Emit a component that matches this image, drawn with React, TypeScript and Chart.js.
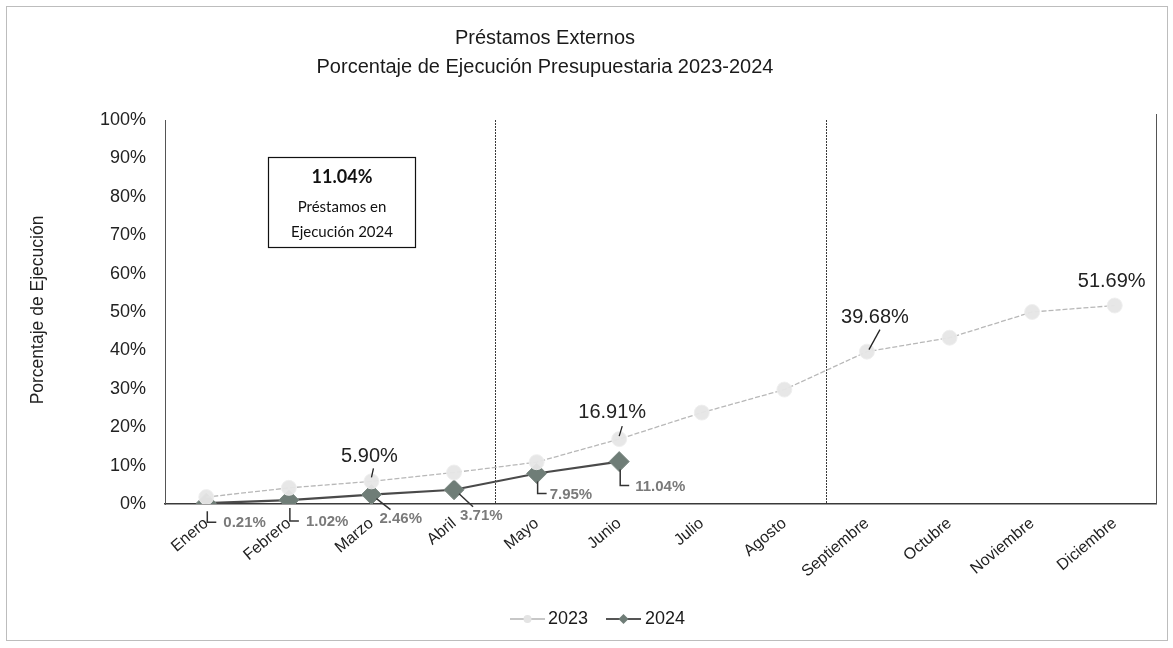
import React, { useEffect, useRef } from "react";
import { Chart, registerables } from "chart.js";

Chart.register(...registerables);

const months = ["Enero", "Febrero", "Marzo", "Abril", "Mayo", "Junio", "Julio", "Agosto", "Septiembre", "Octubre", "Noviembre", "Diciembre"];
const series2023 = [1.8, 4.2, 5.9, 8.2, 10.9, 16.91, 23.8, 29.8, 39.68, 43.3, 50.0, 51.69];
const series2024 = [0.21, 1.02, 2.46, 3.71, 7.95, 11.04];
const labeled2023 = [2, 5, 8, 11];
const dividers = [3.5, 7.5];
const titleLines = ["Préstamos Externos", "Porcentaje de Ejecución Presupuestaria 2023-2024"];
const boxLines = ["11.04%", "Préstamos en", "Ejecución 2024"];
const yAxisTitle = "Porcentaje de Ejecución";
const legendNames = ["2023", "2024"];

// label placement styles (pixel offsets relative to points)
const style2023Labels: Record<number, { dx: number; dy: number; leader: number[] | null }> = {
  2: { dx: -2, dy: -25, leader: [0, -4, 2, -13] },
  5: { dx: -7, dy: -27, leader: [0, -3, 3, -13] },
  8: { dx: 8, dy: -34, leader: [2, -2, 13, -22] },
  11: { dx: -3, dy: -24, leader: null },
};
const style2024Labels = [
  { dx: 17, dy: 20, kind: "L" },
  { dx: 17, dy: 22, kind: "L" },
  { dx: 8, dy: 24, kind: "D" },
  { dx: 6, dy: 26, kind: "D" },
  { dx: 13, dy: 21, kind: "L" },
  { dx: 16, dy: 25, kind: "L" },
];

const fmt = (v: number) => v.toFixed(2) + "%";

const decorPlugin = {
  id: "decor",
  beforeDraw(chart: any) {
    const ctx = chart.ctx;
    ctx.save();
    ctx.fillStyle = "#ffffff";
    ctx.fillRect(0, 0, chart.width, chart.height);
    ctx.strokeStyle = "#bdbdbd";
    ctx.lineWidth = 1;
    ctx.strokeRect(6.5, 6.5, 1161, 634);
    ctx.restore();
  },
  beforeDatasetsDraw(chart: any) {
    const ctx = chart.ctx;
    const { top, bottom, right } = chart.chartArea;
    const x = chart.scales.x;
    ctx.save();
    ctx.strokeStyle = "#3a3a3a";
    ctx.lineWidth = 1;
    ctx.setLineDash([2, 1]);
    dividers.forEach((d) => {
      const px = Math.round(x.getPixelForValue(d)) + 0.5;
      ctx.beginPath();
      ctx.moveTo(px, top);
      ctx.lineTo(px, bottom);
      ctx.stroke();
    });
    ctx.setLineDash([]);
    ctx.strokeStyle = "#555";
    ctx.beginPath();
    ctx.moveTo(Math.round(right) + 0.5, top - 6);
    ctx.lineTo(Math.round(right) + 0.5, bottom);
    ctx.stroke();
    ctx.restore();
  },
  afterDraw(chart: any) {
    const ctx = chart.ctx;
    ctx.save();
    // title
    ctx.fillStyle = "#1a1a1a";
    ctx.textAlign = "center";
    ctx.textBaseline = "middle";
    ctx.font = "20px 'Liberation Sans', Arial, sans-serif";
    ctx.fillText(titleLines[0], 545, 38);
    ctx.fillText(titleLines[1], 545, 67);

    // y axis title
    ctx.save();
    ctx.translate(38, 310);
    ctx.rotate(-Math.PI / 2);
    ctx.font = "17.5px 'Liberation Sans', Arial, sans-serif";
    ctx.fillStyle = "#222";
    ctx.fillText(yAxisTitle, 0, 0);
    ctx.restore();

    // annotation box
    ctx.fillStyle = "#fff";
    ctx.fillRect(268, 157, 147, 90);
    ctx.strokeStyle = "#111";
    ctx.lineWidth = 1.2;
    ctx.strokeRect(268.5, 157.5, 147, 90);
    ctx.fillStyle = "#111";
    ctx.font = "bold 18px Lato, 'Open Sans', sans-serif";
    ctx.fillText(boxLines[0], 342, 177);
    ctx.font = "15px Lato, 'Open Sans', sans-serif";
    ctx.fillText(boxLines[1], 342, 207);
    ctx.fillText(boxLines[2], 342, 232);

    // 2023 labels
    const meta23 = chart.getDatasetMeta(0);
    ctx.font = "20px 'Liberation Sans', Arial, sans-serif";
    ctx.fillStyle = "#222";
    ctx.strokeStyle = "#222";
    ctx.lineWidth = 1.3;
    labeled2023.forEach((i) => {
      const p = meta23.data[i];
      const s = style2023Labels[i];
      ctx.fillText(fmt(series2023[i]), p.x + s.dx, p.y + s.dy);
      if (s.leader) {
        ctx.beginPath();
        ctx.moveTo(p.x + s.leader[0], p.y + s.leader[1]);
        ctx.lineTo(p.x + s.leader[2], p.y + s.leader[3]);
        ctx.stroke();
      }
    });

    // 2024 labels
    const meta24 = chart.getDatasetMeta(1);
    ctx.font = "bold 15px 'Liberation Sans', Arial, sans-serif";
    ctx.textAlign = "left";
    series2024.forEach((v, i) => {
      const p = meta24.data[i];
      const s = style2024Labels[i];
      ctx.strokeStyle = "#333";
      ctx.lineWidth = 1.5;
      ctx.beginPath();
      if (s.kind === "L") {
        ctx.moveTo(p.x + 1, p.y + 8);
        ctx.lineTo(p.x + 1, p.y + s.dy - 1);
        ctx.lineTo(p.x + 10, p.y + s.dy - 1);
      } else {
        ctx.moveTo(p.x + 5, p.y + 4);
        ctx.lineTo(p.x + 19, p.y + s.dy - 9);
      }
      ctx.stroke();
      ctx.fillStyle = "#7a7a7a";
      ctx.fillText(fmt(v), p.x + s.dx, p.y + s.dy);
    });

    // legend
    ctx.textAlign = "left";
    ctx.font = "18px 'Liberation Sans', Arial, sans-serif";
    const ly = 619;
    // 2023
    ctx.strokeStyle = "#b5b5b5";
    ctx.lineWidth = 1.5;
    ctx.beginPath();
    ctx.moveTo(510, ly);
    ctx.lineTo(545, ly);
    ctx.stroke();
    ctx.fillStyle = "#e4e4e4";
    ctx.beginPath();
    ctx.arc(527.5, ly, 4, 0, Math.PI * 2);
    ctx.fill();
    ctx.fillStyle = "#1a1a1a";
    ctx.fillText(legendNames[0], 548, ly);
    // 2024
    ctx.strokeStyle = "#555";
    ctx.lineWidth = 2;
    ctx.beginPath();
    ctx.moveTo(606, ly);
    ctx.lineTo(641, ly);
    ctx.stroke();
    ctx.fillStyle = "#6f7d77";
    ctx.beginPath();
    ctx.moveTo(623.5, ly - 5);
    ctx.lineTo(628.5, ly);
    ctx.lineTo(623.5, ly + 5);
    ctx.lineTo(618.5, ly);
    ctx.closePath();
    ctx.fill();
    ctx.fillStyle = "#1a1a1a";
    ctx.fillText(legendNames[1], 645, ly);
    ctx.restore();
  },
};

export default function App() {
  const canvasRef = useRef<HTMLCanvasElement>(null);
  useEffect(() => {
    document.body.style.margin = "0";
    const chart = new Chart(canvasRef.current as HTMLCanvasElement, {
      type: "line",
      data: {
        labels: months,
        datasets: [
          {
            label: legendNames[0],
            data: series2023,
            borderColor: "#b8b8b8",
            borderWidth: 1.3,
            borderDash: [5, 2],
            pointRadius: 7.5,
            pointStyle: "circle",
            pointBackgroundColor: "rgba(230,230,230,0.95)",
            pointBorderColor: "rgba(238,238,238,0.9)",
            pointBorderWidth: 1,
            tension: 0,
          },
          {
            label: legendNames[1],
            data: series2024,
            borderColor: "#4a4a4a",
            borderWidth: 2.2,
            pointRadius: 10,
            pointStyle: "rectRot",
            pointBackgroundColor: "#6f7d77",
            pointBorderColor: "#7d8a84",
            pointBorderWidth: 1,
            tension: 0,
          },
        ],
      },
      options: {
        responsive: true,
        maintainAspectRatio: false,
        animation: false,
        layout: { padding: { left: 0, top: 120, right: 17, bottom: 0 } },
        plugins: {
          legend: { display: false },
          title: { display: false },
          tooltip: { enabled: false },
        },
        scales: {
          x: {
            offset: true,
            grid: { display: false, drawTicks: false },
            border: { display: true, color: "#3a3a3a", width: 1.5 },
            ticks: {
              minRotation: 40,
              maxRotation: 40,
              padding: 10,
              color: "#222",
              font: { size: 16, family: "'Liberation Sans', Arial, sans-serif" },
            },
            afterFit: (scale: any) => {
              scale.height = 144;
            },
          },
          y: {
            min: 0,
            max: 100,
            grid: { display: false, drawTicks: false },
            border: { display: true, color: "#555", width: 1 },
            ticks: {
              stepSize: 10,
              padding: 19,
              color: "#222",
              font: { size: 18, family: "'Liberation Sans', Arial, sans-serif" },
              callback: (v: any) => v + "%",
            },
            afterFit: (scale: any) => {
              scale.width = 165;
            },
          },
        },
      },
      plugins: [decorPlugin],
    });
    return () => chart.destroy();
  }, []);
  return (
    <div style={{ width: 1173, height: 648, position: "relative" }}>
      <canvas ref={canvasRef} />
    </div>
  );
}
